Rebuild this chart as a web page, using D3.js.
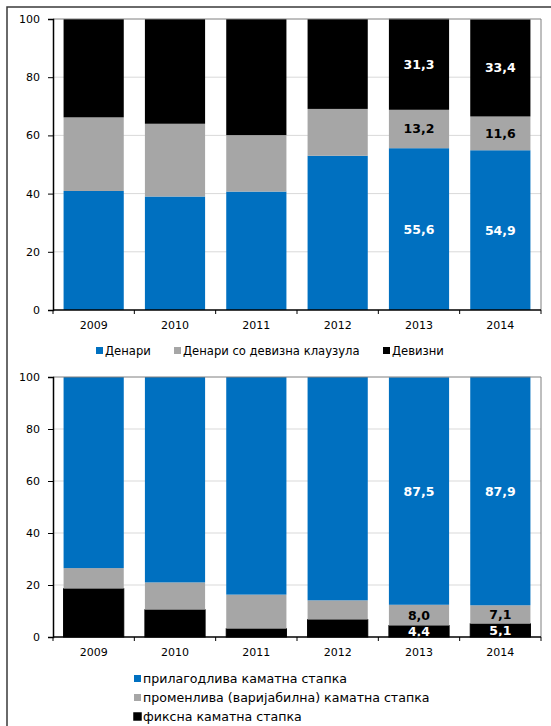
<!DOCTYPE html>
<html>
<head>
<meta charset="utf-8">
<script src="https://cdn.jsdelivr.net/npm/d3@7"></script>
<style>
  html, body { margin: 0; padding: 0; background: #fff; }
  svg { display: block; font-family: "DejaVu Sans", Verdana, sans-serif; }
</style>
</head>
<body>
<svg id="chart" width="551" height="726"></svg>
<script>
// Years on the horizontal axis of both panels
const years = ["2009", "2010", "2011", "2012", "2013", "2014"];
const yTicks = [0, 20, 40, 60, 80, 100];

// Panel 1: currency structure (%)
const currencyNames = ["Денари", "Денари со девизна клаузула", "Девизни"];
const denari        = [40.9, 39.0, 40.7, 53.0, 55.6, 54.9];
const denariClause  = [25.3, 25.0, 19.4, 16.1, 13.2, 11.6];
const foreign       = [33.8, 36.0, 39.9, 30.9, 31.3, 33.4];

// Panel 2: interest rate structure (%)
const rateNames = ["прилагодлива каматна стапка", "променлива (варијабилна) каматна стапка", "фиксна каматна стапка"];
const adjustable = [73.5, 79.0, 83.7, 85.9, 87.5, 87.9];
const variable   = [7.9, 10.5, 13.1, 7.4, 8.0, 7.1];
const fixed      = [18.6, 10.5, 3.2, 6.7, 4.4, 5.1];

// Years whose segment values are printed on the bars
const labelledYears = ["2013", "2014"];

const BLUE = "#0070C0", GREY = "#A6A6A6", BLACK = "#000000";
const svg = d3.select("#chart");
const fmt = v => d3.format(".1f")(v).replace(".", ",");

// outer frame
svg.append("path")
  .attr("d", "M7,726 L7,7 L551,7")
  .attr("fill", "none").attr("stroke", "#3a3a3a").attr("stroke-width", 1.5);

// cfg.stack lists the series bottom-to-top; cfg.legendItems lists them in legend order
function panel(cfg) {
  const g = svg.append("g");
  const x = d3.scaleBand().domain(years).range([53, 541]).paddingInner(0.26).paddingOuter(0.13);
  const y = d3.scaleLinear().domain([0, 100]).range([cfg.bottom, cfg.top]);

  // horizontal gridlines
  g.selectAll("line.grid").data(yTicks.filter(t => t > 0 && t < 100)).join("line")
    .attr("x1", 53).attr("x2", 541)
    .attr("y1", d => y(d)).attr("y2", d => y(d))
    .attr("stroke", "#d9d9d9").attr("stroke-width", 1);

  // stacked bars
  const keys = cfg.stack.map(s => s.key);
  const rows = years.map((yr, i) => {
    const o = { year: yr };
    cfg.stack.forEach(s => o[s.key] = s.values[i]);
    return o;
  });
  const stacked = d3.stack().keys(keys)(rows);
  stacked.forEach((layer, i) => {
    const s = cfg.stack[i];
    const lg = g.append("g").attr("fill", s.color);
    const rects = lg.selectAll("rect").data(layer).join("rect")
      .attr("x", d => x(d.data.year))
      .attr("width", x.bandwidth())
      .attr("y", d => y(d[1]))
      .attr("height", d => y(d[0]) - y(d[1]));
    if (s.outline) rects.attr("stroke", "#000").attr("stroke-width", 1);
  });

  // value labels
  stacked.forEach((layer, i) => {
    const s = cfg.stack[i];
    g.selectAll(null).data(layer.filter(d => labelledYears.includes(d.data.year))).join("text")
      .attr("x", d => x(d.data.year) + x.bandwidth() / 2)
      .attr("y", d => (y(d[0]) + y(d[1])) / 2)
      .attr("dy", "0.36em")
      .attr("text-anchor", "middle")
      .attr("font-size", 12.5).attr("font-weight", "bold")
      .attr("fill", s.color === GREY ? "#000" : "#fff")
      .text(d => fmt(d.data[layer.key]));
  });

  // plot border: top and right
  g.append("path")
    .attr("d", `M53,${cfg.top} L541,${cfg.top} L541,${cfg.bottom}`)
    .attr("fill", "none").attr("stroke", "#7f7f7f").attr("stroke-width", 1);

  // y axis
  const ya = g.append("g").attr("transform", "translate(53,0)")
    .call(d3.axisLeft(y).tickValues(yTicks).tickSize(5).tickPadding(8));
  ya.select(".domain").attr("stroke", "#000").attr("stroke-width", 1.5);
  ya.selectAll(".tick line").attr("stroke", "#000");
  ya.selectAll("text").attr("font-size", 11).attr("fill", "#000").attr("font-family", "DejaVu Sans, sans-serif");

  // x axis with ticks on category boundaries
  const xa = g.append("g").attr("transform", `translate(0,${cfg.bottom})`);
  xa.append("line").attr("x1", 53).attr("x2", 541).attr("stroke", "#000").attr("stroke-width", 1.5);
  const step = x.step();
  xa.selectAll("line.tk").data(d3.range(years.length + 1)).join("line")
    .attr("x1", k => 53 + k * step).attr("x2", k => 53 + k * step)
    .attr("y1", 0).attr("y2", 4).attr("stroke", "#000");
  xa.selectAll("text").data(years).join("text")
    .attr("x", d => x(d) + x.bandwidth() / 2)
    .attr("y", 19)
    .attr("text-anchor", "middle")
    .attr("font-size", 11).attr("fill", "#000")
    .text(d => d);

  // legend
  const lg = g.selectAll("g.leg").data(cfg.legendItems).join("g")
    .attr("transform", (d, i) => `translate(${cfg.legend[i][0]},${cfg.legend[i][1]})`);
  lg.append("rect").attr("x", 0).attr("y", -4).attr("width", 7).attr("height", 7)
    .attr("fill", d => d.color)
    .attr("stroke", d => d.outline ? "#000" : "none").attr("stroke-width", 1.5);
  lg.append("text").attr("x", cfg.legendGap).attr("y", 4)
    .attr("font-size", cfg.legendFont).attr("fill", "#000").text(d => d.name);
}

const cur = [
  { key: "d", name: currencyNames[0], values: denari, color: BLUE },
  { key: "c", name: currencyNames[1], values: denariClause, color: GREY },
  { key: "f", name: currencyNames[2], values: foreign, color: BLACK }
];
panel({
  top: 19, bottom: 310,
  stack: cur, legendItems: cur,
  legend: [[96, 351], [174, 351], [383, 351]], legendGap: 9, legendFont: 11.6
});

const rate = [
  { key: "a", name: rateNames[0], values: adjustable, color: BLUE },
  { key: "v", name: rateNames[1], values: variable, color: GREY },
  { key: "x", name: rateNames[2], values: fixed, color: BLACK, outline: true }
];
panel({
  top: 377, bottom: 637,
  stack: [rate[2], rate[1], rate[0]], legendItems: rate,
  legend: [[134, 679], [134, 698], [134, 717]], legendGap: 9, legendFont: 12.6
});
</script>
</body>
</html>
